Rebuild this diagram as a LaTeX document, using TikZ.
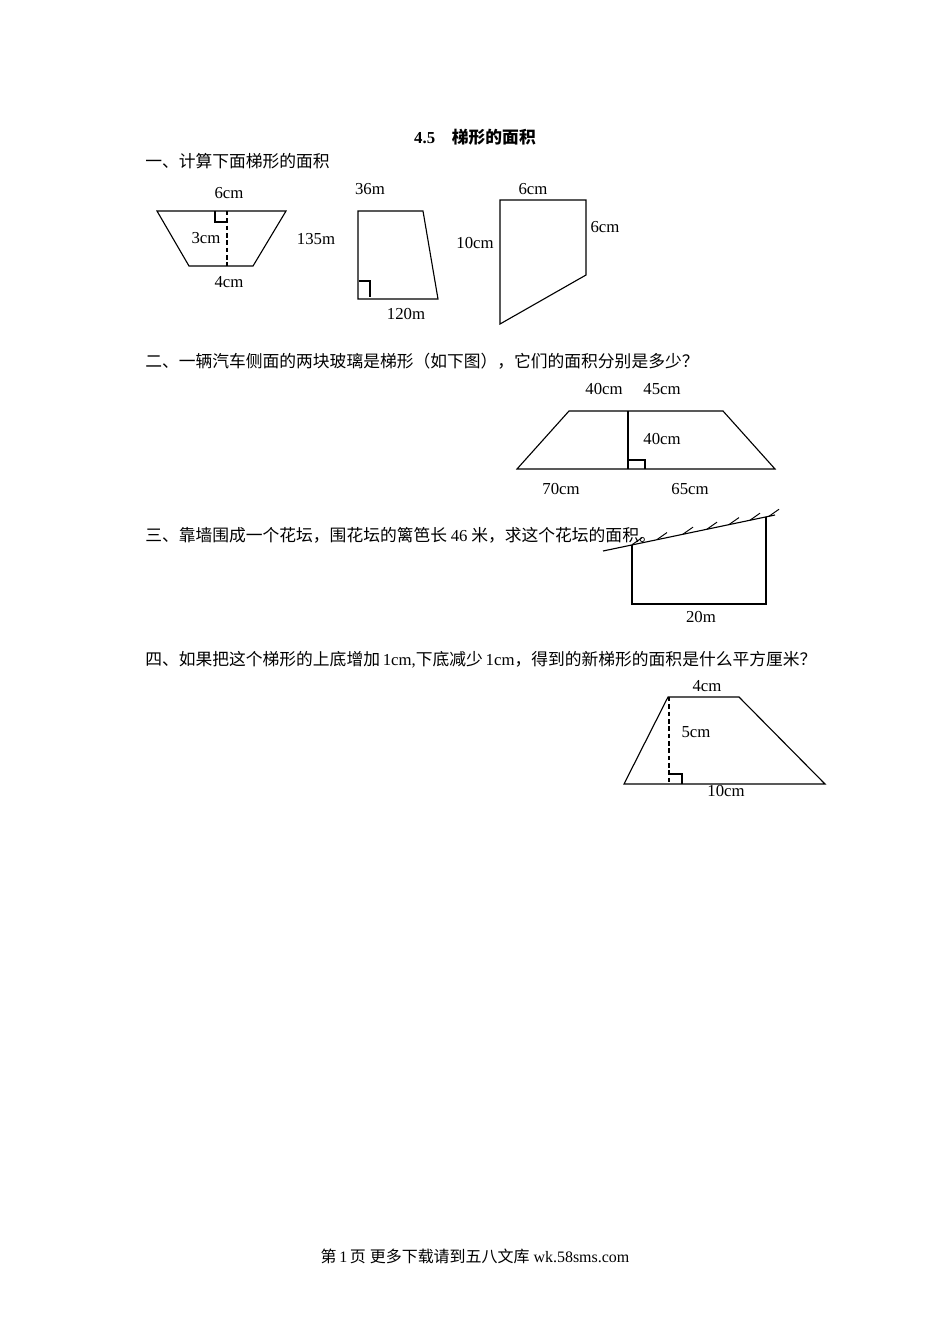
\documentclass[tikz,border=0pt]{standalone}
\usepackage{fontspec}
\setmainfont{Liberation Serif}
\newfontfamily\cjk{Noto Sans CJK SC}
\usetikzlibrary{positioning}
\newcommand\lat[1]{{\rmfamily #1}}

\begin{document}
\begin{tikzpicture}[x=0.6263pt,y=-0.6263pt,
    lbl/.style={font=\fontsize{10.5}{12}\selectfont},
    ques/.style={anchor=west,inner sep=0pt,font=\fontsize{10.5}{12}\selectfont\cjk},
    fig/.style={line width=0.7pt},
    hgt/.style={line width=0.7pt,dash pattern=on 2.8pt off 1.8pt}]
    \useasboundingbox (0,0) rectangle (950,1344);

    % Title
    \node[lbl,font=\fontsize{10.5}{12}\selectfont\bfseries] (title) at (475,137) {4.5\quad{\cjk 梯形的面积}};

    % Part 1
    \node[ques] (q1) at (145,161) {一、计算下面梯形的面积};
    \draw[fig] (157,211) -- (286,211) -- (253,266) -- (189,266) -- cycle;
    \draw[hgt] (227,211) -- (227,266);
    \draw[fig] (215,211) -- (215,222) -- (227,222);
    \node[lbl] (a1top) at (229,193) {6cm};
    \node[lbl] (a1h) at (206,238) {3cm};
    \node[lbl] (a1bot) at (229,282) {4cm};
    \node[lbl] (a2h) at (316,239) {135m};
    \draw[fig] (358,211) -- (423,211) -- (438,299) -- (358,299) -- cycle;
    \draw[fig] (359,281) -- (370,281) -- (370,297);
    \node[lbl] (a2top) at (370,189) {36m};
    \node[lbl] (a2bot) at (406,314) {120m};
    \draw[fig] (500,200) -- (586,200) -- (586,275) -- (500,324) -- cycle;
    \node[lbl] (a3top) at (533,189) {6cm};
    \node[lbl] (a3right) at (605,227) {6cm};
    \node[lbl] (a3left) at (475,243) {10cm};

    % Part 2
    \node[ques] (q2) at (145,361) {二、一辆汽车侧面的两块玻璃是梯形（如下图），它们的面积分别是多少？};
    \draw[fig] (517,469) -- (569,411) -- (723,411) -- (775,469) -- cycle;
    \draw[fig] (628,411) -- (628,469);
    \draw[fig] (628,460) -- (645,460) -- (645,469);
    \node[lbl] (b1top) at (604,389) {40cm};
    \node[lbl] (b2top) at (662,389) {45cm};
    \node[lbl] (bh) at (662,439) {40cm};
    \node[lbl] (b1bot) at (561,489) {70cm};
    \node[lbl] (b2bot) at (690,489) {65cm};

    % Part 3
    \node[ques] (q3) at (145,535) {三、靠墙围成一个花坛，围花坛的篱笆长 \lat{46} 米，求这个花坛的面积。};
    \draw[fig] (603,551) -- (775,515);
    \foreach \hx in {632,657,683,707,729,750,769}
        \draw[line width=0.6pt] (\hx,{550.7-(\hx-603.3)*0.208}) -- ++(10,-7);
    \draw[fig] (632,545) -- (632,604) -- (766,604) -- (766,517);
    \node[lbl] (cbot) at (701,617) {20m};

    % Part 4
    \node[ques] (q4) at (145,660) {四、如果把这个梯形的上底增加\,\lat{1cm,}下底减少\,\lat{1cm}，得到的新梯形的面积是什么平方厘米？};
    \draw[fig] (668,697) -- (739,697) -- (825,784) -- (624,784) -- cycle;
    \draw[hgt] (669,697) -- (669,784);
    \draw[fig] (669,774) -- (682,774) -- (682,784);
    \node[lbl] (dtop) at (707,686) {4cm};
    \node[lbl] (dh) at (696,732) {5cm};
    \node[lbl] (dbot) at (726,791) {10cm};

    % Footer
    \node[lbl,font=\fontsize{10}{12}\selectfont] (foot) at (475,1256) {{\cjk 第}\,1\,{\cjk 页}\ {\cjk 更多下载请到五八文库}\ wk.58sms.com};
\end{tikzpicture}
\end{document}
